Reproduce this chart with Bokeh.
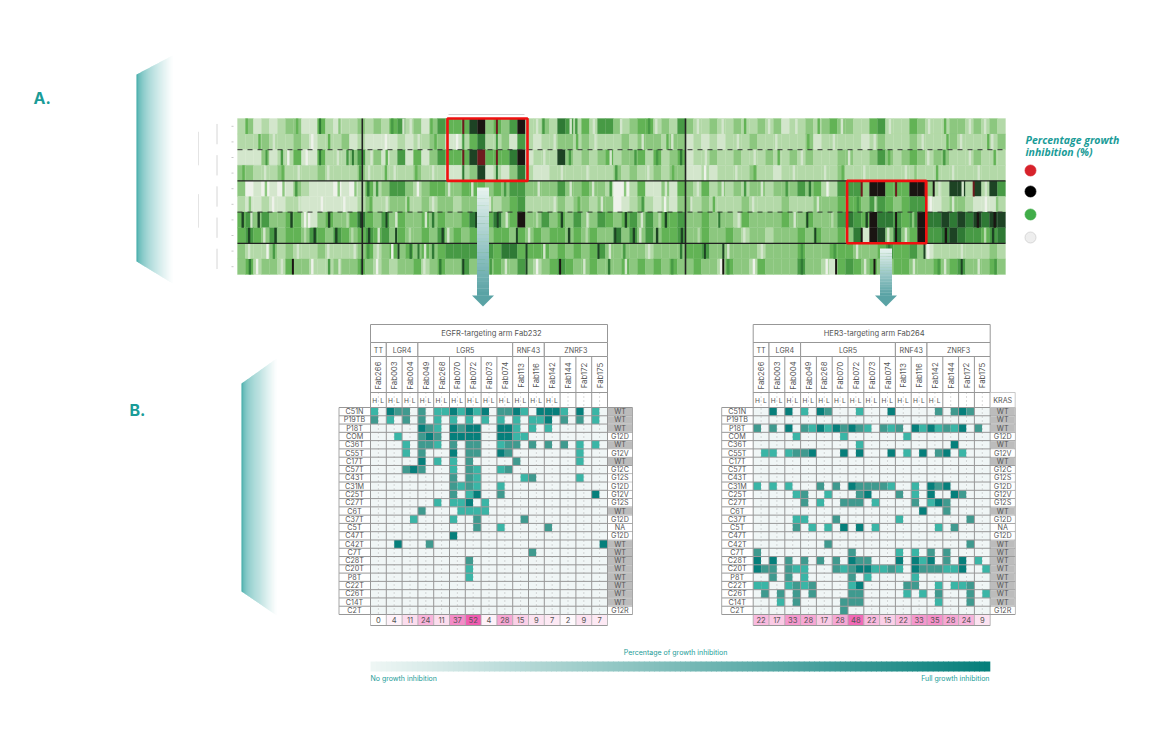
from bokeh.plotting import figure
from bokeh.models import Range1d
from bokeh.core.properties import value
from bokeh.embed import file_html
from bokeh.resources import INLINE

FONT = "Inter"
TEAL = "#1a9c98"
TXT = "#555555"

# ---------- data: panel A heat map (shade level per column block, row by row)
heat_r0 = "2312123311 4212232324 5231354447 8343582232 6524255323 4423253223 2232232312 2323433224 5222432223 323232"
heat_r1 = "2223222321 2223121111 2122331124 6223152122 3323222232 3332331212 1222322222 2312222212 3222322223 222223"
heat_r2 = "1113122411 4222352312 5141354447 9444681222 7323234233 4242341223 2232223223 2322233223 5323432332 223222"
heat_r3 = "3322232222 3222232222 2232221123 7121362112 2222222323 2232331121 2222322122 2222232222 2222222222 222222"
heat_r4 = "3010101321 1101024235 5323443344 4343553333 5334332002 4113143242 3232332333 5342255538 8444883227 727275"
heat_r5 = "2112112211 1111123223 3223233233 4323452222 3233233012 3212133232 2223222232 2233344435 5434551123 321112"
heat_r6 = "4535334421 3433464353 4334343346 6463483353 4353354345 3534453343 3324333343 3433356548 6654586676 767677"
heat_r7 = "4543534435 4354345453 4334353434 3344343434 4343433635 3534453343 3432332333 4343343618 7363485567 655456"
heat_r8 = "3222323222 3222234234 3434345555 4546644443 4343453333 3233334453 3333323333 4333444333 4544531222 222232"
heat_r9 = "3423324332 2233343232 3342343353 5343353234 5433433343 4343433433 2433243333 5332145434 3344333434 533343"
heat_rows = [heat_r0, heat_r1, heat_r2, heat_r3, heat_r4, heat_r5, heat_r6, heat_r7, heat_r8, heat_r9]
# thin stripes: (row, column block, shade level)
stripes = [(0, 28.1, 9), (0, 32.3, 9), (0, 10.2, 6), (1, 28.1, 5), (1, 32.3, 5), (2, 28.1, 9), (2, 32.3, 9),
           (2, 10.2, 6), (2, 14.3, 6), (2, 3.5, 5), (3, 28.1, 6), (3, 32.3, 6),
           (4, 77.9, 9), (4, 82.2, 9), (4, 86.9, 8), (4, 91.9, 9), (4, 85.8, 9),
           (6, 18.5, 7), (6, 29.7, 7), (6, 32.4, 7), (6, 71.1, 7), (6, 82.2, 8), (6, 60.1, 6),
           (7, 77.9, 8), (7, 82.2, 8), (7, 72.1, 7), (7, 19.7, 7), (7, 34.8, 7), (7, 47.1, 7),
           (8, 36.0, 7), (8, 20.0, 7), (8, 45.0, 7), (8, 58.3, 7), (8, 60.6, 7), (8, 85.75, 7), (8, 22.5, 6),
           (9, 6.8, 8), (9, 28.1, 7), (9, 40.2, 8), (9, 60.6, 8), (9, 74.7, 8), (9, 79.5, 8), (9, 90.4, 7), (9, 36.0, 7)]
fine_r0 = [(1.0, 4), (7.3, 4), (12.6, 3), (19.2, 5), (24.1, 4), (38.1, 5), (42.2, 5), (51.3, 5), (63.3, 4), (72.5, 4), (88.3, 4),
           (20.6, 1), (21.5, 1), (37.3, 1), (41.5, 1), (44.4, 1), (47.8, 1), (52.2, 1), (57.4, 1), (60.5, 1), (66.3, 1), (69.7, 1), (75.4, 1), (81.4, 1), (86.3, 1), (91.4, 1), (93.3, 1)]
fine_r1 = [(4.4, 1), (9.2, 0), (14.5, 1), (18.4, 0), (22.5, 1), (27.3, 0), (39.5, 1), (44.6, 1), (50.5, 1), (54.2, 1), (62.4, 1), (67.2, 1), (74.4, 1), (79.5, 1), (85.5, 1), (90.3, 1), (94.2, 1),
           (2.6, 4), (11.3, 4), (24.6, 4), (42.3, 4), (53.6, 4), (71.2, 4), (88.6, 4), (93.7, 4)]
fine_r2 = [(6.2, 0), (8.5, 0), (12.4, 1), (16.6, 1), (21.2, 1), (23.4, 1), (38.2, 1), (46.5, 1), (58.4, 1), (64.5, 1), (70.4, 1), (76.3, 1), (86.2, 1), (91.4, 1),
           (5.4, 5), (13.6, 5), (18.5, 4), (41.4, 5), (49.6, 5), (52.3, 5), (55.3, 6), (67.5, 4), (81.3, 4), (88.2, 5), (94.5, 4)]
fine_r3 = [(3.3, 1), (7.5, 1), (11.2, 1), (16.3, 1), (19.5, 1), (24.3, 1), (37.5, 1), (40.4, 1), (43.6, 1), (51.2, 1), (58.3, 0), (62.2, 1), (69.4, 1), (73.3, 1), (78.2, 1), (83.4, 1), (89.3, 1), (92.5, 1),
           (0.6, 4), (5.5, 4), (15.2, 5), (18.4, 4), (22.2, 4), (47.2, 5), (54.3, 4), (64.5, 4), (75.5, 4), (84.6, 3), (87.3, 4)]
fine_r4 = [(3.4, 3), (5.6, 3), (7.2, 5), (12.5, 3), (14.6, 3), (17.3, 5), (22.4, 0), (26.3, 1), (29.2, 1), (37.5, 1), (41.5, 1), (44.3, 1), (48.3, 3), (53.4, 1), (57.4, 1), (60.5, 1), (65.4, 1), (73.6, 0), (87.6, 1), (90.5, 1), (93.4, 1),
           (16.2, 6), (33.3, 5), (46.5, 5), (63.3, 5), (68.5, 5), (71.4, 6)]
fine_r5 = [(4.3, 0), (7.6, 1), (10.4, 0), (13.2, 0), (18.5, 1), (24.3, 1), (31.4, 1), (39.5, 1), (45.4, 1), (53.3, 0), (56.6, 1), (64.3, 1), (72.4, 1), (79.6, 2), (86.5, 0), (89.3, 1), (93.4, 0),
           (1.4, 3), (16.5, 4), (21.2, 4), (42.5, 4), (50.5, 5), (59.4, 4), (77.4, 5), (94.8, 3)]
fine_r6 = [(1.6, 1), (8.3, 0), (8.8, 0), (13.6, 2), (19.7, 1), (23.4, 1), (33.5, 1), (37.3, 2), (43.6, 1), (50.4, 1), (52.6, 2), (62.5, 1), (69.5, 1), (74.2, 2), (84.3, 3),
           (0.5, 7), (2.5, 7), (6.6, 7), (11.3, 7), (15.3, 7), (24.3, 6), (40.4, 7), (48.4, 7), (53.4, 7), (78.5, 7), (92.4, 8), (94.5, 8)]
fine_r7 = [(3.2, 1), (8.3, 2), (14.2, 2), (17.5, 1), (21.4, 2), (26.2, 1), (36.3, 1), (43.5, 2), (50.2, 1), (57.5, 2), (63.2, 1), (66.4, 2), (81.2, 1), (83.4, 1), (93.3, 2),
           (1.3, 7), (4.6, 7), (9.5, 7), (12.2, 7), (16.3, 7), (25.5, 7), (41.3, 7), (49.4, 7), (52.3, 7), (55.4, 7), (88.4, 8), (94.3, 7)]
fine_r8 = [(1.3, 1), (3.6, 0), (7.4, 1), (11.2, 1), (14.5, 1), (17.4, 1), (19.2, 0), (23.3, 1), (38.2, 1), (46.4, 1), (51.3, 1), (61.2, 1), (65.4, 1), (77.3, 1), (86.2, 0), (90.4, 1),
           (4.4, 5), (16.2, 5), (21.5, 6), (24.3, 6), (48.2, 5), (55.3, 6), (70.4, 5), (74.5, 5), (81.3, 6)]
fine_r9 = [(2.3, 0), (5.4, 1), (9.2, 0), (12.6, 1), (17.3, 0), (23.2, 1), (33.4, 1), (37.3, 0), (43.2, 1), (48.4, 1), (60.3, 0), (64.4, 0), (73.5, 0), (78.3, 1), (84.4, 1), (88.3, 1), (92.5, 1),
           (1.4, 6), (11.3, 5), (15.4, 6), (25.2, 6), (31.5, 5), (46.3, 6), (54.2, 5), (61.2, 5), (70.4, 6), (87.5, 5), (94.6, 5)]
fine_rows = [fine_r0, fine_r1, fine_r2, fine_r3, fine_r4, fine_r5, fine_r6, fine_r7, fine_r8, fine_r9]
heat_palette = ["#eef2ea", "#d3e6cc", "#b3d9a8", "#8cc77f", "#62b355", "#479a45", "#2f7a35", "#1d4324", "#1a1512", "#6e1a1e"]

# ---------- data: panel B
samples = ["C51N", "P19TB", "P18T", "COM", "C36T", "C55T", "C17T", "C57T", "C43T", "C31M", "C25T", "C27T", "C6T",
           "C37T", "C5T", "C47T", "C42T", "C7T", "C28T", "C20T", "P8T", "C22T", "C26T", "C14T", "C2T"]
kras = ["WT", "WT", "WT", "G12D", "WT", "G12V", "WT", "G12C", "G12S", "G12D", "G12V", "G12S", "WT",
        "G12D", "NA", "G12D", "WT", "WT", "WT", "WT", "WT", "WT", "WT", "WT", "G12R"]
fabs = ["Fab266", "Fab003", "Fab004", "Fab049", "Fab268", "Fab070", "Fab072", "Fab073", "Fab074", "Fab113",
        "Fab116", "Fab142", "Fab144", "Fab172", "Fab175"]
groups = [("TT", 1), ("LGR4", 2), ("LGR5", 6), ("RNF43", 2), ("ZNRF3", 4)]
egfr_cells = [
    "10 32 20 20 11 31 31 30 22 31 03 33 10 30 10",
    "20 10 20 20 10 10 10 10 10 10 11 30 20 20 10",
    "00 00 00 32 10 32 33 00 33 10 10 10 00 00 00",
    "00 01 00 23 20 33 33 00 33 11 00 00 00 00 00",
    "00 00 10 22 10 20 22 00 12 20 20 20 20 10 10",
    "00 00 10 20 00 30 22 00 32 00 00 00 00 10 00",
    "00 00 00 30 10 10 20 00 00 20 00 00 00 10 00",
    "00 00 23 20 00 10 21 00 12 00 00 00 00 00 00",
    "00 00 00 00 00 20 21 00 00 01 20 00 00 10 00",
    "00 00 00 00 00 21 21 00 10 00 00 00 00 00 00",
    "00 00 00 00 00 20 13 00 20 00 00 00 00 00 30",
    "00 00 00 00 10 11 30 10 00 00 00 00 00 00 00",
    "00 00 00 20 00 01 11 10 00 00 00 00 00 00 00",
    "00 00 01 00 00 10 02 00 00 02 00 00 00 00 00",
    "00 00 00 00 00 00 02 00 10 00 00 20 00 00 00",
    "00 00 00 00 00 30 00 00 00 00 00 00 00 00 00",
    "00 03 00 02 00 00 00 00 00 00 00 00 00 00 03",
    "00 00 00 00 00 00 00 00 00 00 20 00 00 00 00",
    "00 00 00 00 00 00 20 00 00 00 00 00 00 00 00",
    "00 00 00 00 00 00 10 00 00 00 00 00 00 00 00",
    "00 00 00 00 00 00 10 00 00 00 00 00 00 00 00",
    "00 00 00 00 00 00 00 00 00 00 00 00 00 00 00",
    "00 00 00 00 00 00 00 00 00 00 00 00 00 00 00",
    "00 00 00 00 00 00 00 00 00 00 00 00 00 00 00",
    "00 00 00 00 00 00 00 00 00 00 00 00 00 00 00",
]
her3_cells = [
    "00 30 30 10 32 00 01 00 03 00 00 02 02 32 00",
    "00 00 00 00 00 00 00 00 00 00 00 00 00 00 00",
    "20 20 30 21 31 32 32 10 21 20 31 31 21 30 20",
    "00 00 01 00 00 01 00 00 00 01 00 00 00 00 00",
    "00 00 00 00 00 00 01 00 00 00 00 00 03 00 00",
    "01 10 12 23 00 03 03 00 03 01 03 02 30 10 00",
    "00 00 00 00 00 00 00 00 00 00 00 00 00 00 00",
    "00 00 00 00 00 00 00 00 00 00 00 00 00 00 00",
    "00 00 00 00 00 00 00 00 00 00 00 00 00 00 00",
    "10 10 10 00 20 20 32 22 21 00 10 32 30 00 00",
    "00 00 01 20 01 00 02 30 00 20 10 30 03 20 00",
    "00 00 00 20 10 02 22 01 00 00 20 13 20 00 00",
    "00 00 00 00 00 00 00 00 00 00 03 00 20 00 00",
    "00 00 01 10 00 20 00 00 00 10 00 00 00 02 00",
    "00 00 02 01 01 03 03 01 00 00 00 01 02 00 00",
    "00 00 00 00 00 00 00 00 00 00 00 00 00 00 00",
    "00 00 00 00 02 00 00 00 00 00 00 00 00 02 00",
    "20 00 00 00 00 00 20 00 00 10 10 20 20 00 00",
    "30 30 20 20 20 20 32 20 00 30 31 30 20 30 10",
    "32 20 21 10 00 21 23 31 12 10 32 22 11 30 01",
    "00 20 20 10 00 00 20 10 00 00 10 00 00 00 00",
    "11 00 12 12 00 00 13 00 00 02 20 01 01 12 00",
    "02 02 02 02 00 00 22 00 00 01 01 02 00 02 01",
    "00 01 02 00 00 02 22 00 00 00 00 01 00 02 00",
    "00 00 00 00 00 02 00 00 00 00 00 00 00 00 00",
]
egfr_counts = [0, 4, 11, 24, 11, 37, 52, 4, 28, 15, 9, 7, 2, 9, 7]
her3_counts = [22, 17, 33, 28, 17, 28, 48, 22, 15, 22, 33, 35, 28, 24, 9]
cell_palette = ["#f0f6f6", "#3ab5a6", "#3f9a8f", "#067f7b"]
legend_colors = ["#d7222b", "#000000", "#41ad49", "#eeeeee"]


def mix(a, b, t):
    pa = [int(a[i:i + 2], 16) for i in (1, 3, 5)]
    pb = [int(b[i:i + 2], 16) for i in (1, 3, 5)]
    return "#%02x%02x%02x" % tuple(round(x + (y - x) * t) for x, y in zip(pa, pb))


p = figure(width=1154, height=732, x_range=Range1d(0, 1154), y_range=Range1d(732, 0),
           x_axis_type=None, y_axis_type=None, output_backend="svg", toolbar_location=None,
           min_border=0, outline_line_color=None, background_fill_color="white")


def label(x, y, s, size=7.5, color=TXT, align="center", style="normal", angle=0.0, font=FONT):
    p.text([x], [y], text=[s], text_font=value(font), text_font_size=f"{size}px", text_color=color,
           text_align=align, text_baseline="middle", text_font_style=style, angle=angle)


def gradient_wing(x0, x1, top0, top1, bot0, bot1, color, n=36):
    xs, ys, cs = [], [], []
    for i in range(n):
        a, b = i / n, (i + 1) / n
        xa, xb = x0 + (x1 - x0) * a, x0 + (x1 - x0) * b + 0.3
        xs.append([xa, xb, xb, xa])
        ys.append([top0 + (top1 - top0) * a, top0 + (top1 - top0) * b,
                   bot0 + (bot1 - bot0) * b, bot0 + (bot1 - bot0) * a])
        cs.append(mix(color, "#ffffff", min(1, (a ** 0.55))))
    p.patches(xs, ys, fill_color=cs, line_color=None)


gradient_wing(136, 172, 74, 55, 261, 283, "#2fa3a0")
gradient_wing(241, 276, 383, 358, 591, 615, "#2fa3a0")
label(33, 97, "A.", size=16, color=TEAL, align="left", style="bold")
label(129, 409, "B.", size=16, color=TEAL, align="left", style="bold")

# ---------- heat map
HX0, HY0, BW, RH = 237.0, 118.0, 8.0, 15.6
L, R, T, B, C = [], [], [], [], []
for r, row in enumerate(heat_rows):
    for c, ch in enumerate(row.replace(" ", "")):
        L.append(HX0 + c * BW); R.append(HX0 + (c + 1) * BW)
        T.append(HY0 + r * RH); B.append(HY0 + (r + 1) * RH)
        C.append(heat_palette[int(ch)])
p.quad(left=L, right=R, top=T, bottom=B, fill_color=C, line_color=C, line_width=0.3)
fr = [(r, c, l) for r, row in enumerate(fine_rows) for c, l in row]
p.quad(left=[HX0 + c * BW for _, c, _l in fr], right=[HX0 + c * BW + 2.4 for _, c, _l in fr],
       top=[HY0 + r * RH for r, _, _l in fr], bottom=[HY0 + (r + 1) * RH for r, _, _l in fr],
       fill_color=[heat_palette[l] for _, _, l in fr], line_color=None)
p.quad(left=[HX0 + c * BW for _, c, _l in stripes], right=[HX0 + c * BW + 2 for _, c, _l in stripes],
       top=[HY0 + r * RH for r, _, _l in stripes], bottom=[HY0 + (r + 1) * RH for r, _, _l in stripes],
       fill_color=[heat_palette[l] for _, _, l in stripes], line_color=None)

xe = HX0 + 96 * BW
p.segment([HX0, HX0], [HY0 + 2 * RH, HY0 + 6 * RH], [xe, xe], [HY0 + 2 * RH, HY0 + 6 * RH],
          line_color="#333333", line_width=1.0, line_dash="5 5")
p.segment([HX0, HX0], [HY0 + 4 * RH, HY0 + 8 * RH], [xe, xe], [HY0 + 4 * RH, HY0 + 8 * RH],
          line_color="#222222", line_width=1.3)
p.segment([HX0 + 15.6 * BW, HX0 + 56 * BW], [HY0] * 2, [HX0 + 15.6 * BW, HX0 + 56 * BW], [HY0 + 10 * RH] * 2,
          line_color="#222222", line_width=1.6)
# red selection boxes
p.quad(left=[HX0 + 26.25 * BW, HX0 + 76.2 * BW], right=[HX0 + 36.25 * BW, HX0 + 86.1 * BW],
       top=[HY0 + 0.0 * RH, HY0 + 4 * RH], bottom=[HY0 + 4 * RH, HY0 + 8 * RH],
       fill_color=None, line_color="#f01010", line_width=2.6)

# dendrogram ticks (faint)
tx = [216.5] * 5
ty0 = [HY0 + (2 * i + 0.35) * RH for i in range(5)]
ty1 = [HY0 + (2 * i + 1.65) * RH for i in range(5)]
p.segment(tx, ty0, tx, ty1, line_color="#cccccc", line_width=0.8)
p.segment([198] * 2, [HY0 + 0.85 * RH, HY0 + 4.85 * RH], [198] * 2, [HY0 + 3.0 * RH, HY0 + 7.0 * RH],
          line_color="#dddddd", line_width=0.8)
p.segment([231] * 10, [HY0 + (i + 0.5) * RH for i in range(10)], [233] * 10, [HY0 + (i + 0.5) * RH for i in range(10)],
          line_color="#bbbbbb", line_width=0.8)
p.segment([448], [114], [524], [114], line_color="#bbbbbb", line_width=0.7)

# ---------- arrows
for xc, y_top in ((482.5, 187.0), (885.5, 248.0)):
    n = 30
    y_end = 295.0
    step = (y_end - y_top) / n
    p.quad(left=[xc - 6] * n, right=[xc + 6] * n,
           top=[y_top + i * step for i in range(n)], bottom=[y_top + (i + 1) * step + 0.3 for i in range(n)],
           fill_color=[mix("#e6f2ee", "#5aa3a5", i / (n - 1)) for i in range(n)], line_color=None)
    p.patch([xc - 11, xc + 11, xc], [y_end, y_end, y_end + 11], fill_color="#5aa3a5", line_color=None)

# ---------- legend of panel A
label(1025, 139, "Percentage growth", size=10.5, color=TEAL, align="left", style="bold italic", font="Open Sans")
label(1025, 151, "inhibition (%)", size=10.5, color=TEAL, align="left", style="bold italic", font="Open Sans")
p.scatter([1030] * 4, [170, 191, 214, 237], size=11, fill_color=legend_colors,
          line_color=["#d7222b", "#000000", "#41ad49", "#cccccc"], line_width=0.7)

# ---------- panel B tables
CW, RH2, Y0 = 15.8, 8.28, 407.0
GRID = "#979797"


def panel(x0, title, cells, counts, show_kras_head):
    xr = x0 + 15 * CW
    L, R, T, B, C = [], [], [], [], []
    for r, row in enumerate(cells):
        for c, ch in enumerate(row.replace(" ", "")):
            L.append(x0 + c * CW / 2); R.append(x0 + (c + 1) * CW / 2)
            T.append(Y0 + r * RH2); B.append(Y0 + (r + 1) * RH2)
            C.append(cell_palette[int(ch)])
    p.quad(left=L, right=R, top=T, bottom=B, fill_color=C, line_color=None)
    yb = Y0 + 25 * RH2
    centres = [x0 + (j + 0.5) * CW for j in range(15)]
    p.segment(centres, [Y0 - 15] * 15, centres, [yb] * 15, line_color="#888888", line_width=0.6, line_dash="1 3")
    p.quad(left=[x0], right=[xr], top=[324], bottom=[342], fill_color="white", line_color=GRID, line_width=1)
    label((x0 + xr) / 2 + 2.5, 333, title, size=7.6)
    j = 0
    for name, span in groups:
        a, b = x0 + j * CW, x0 + (j + span) * CW
        p.quad(left=[a], right=[b], top=[342], bottom=[356], fill_color="white", line_color=GRID, line_width=1)
        label((a + b) / 2, 349.5, name, size=7.2)
        j += span
    edges = [x0 + j * CW for j in range(16)]
    p.segment(edges, [356] * 16, edges, [yb] * 16, line_color=GRID, line_width=1)
    p.segment([x0], [392], [xr], [392], line_color=GRID, line_width=1)
    for j, f in enumerate(fabs):
        label(x0 + (j + 0.5) * CW, 375, f, size=7.8, angle=1.5708)
        if j < 12:
            label(x0 + (j + 0.25) * CW + 0.3, 400, "H", size=6.6)
            label(x0 + (j + 0.75) * CW - 0.3, 400, "L", size=6.6)
    ys = [Y0 + r * RH2 for r in range(26)]
    p.segment([x0 - 31.5] * 26, ys, [xr + 25] * 26, ys, line_color=GRID, line_width=1)
    p.segment([x0 - 31.5, xr + 25], [Y0] * 2, [x0 - 31.5, xr + 25], [yb] * 2, line_color="#a5a5a5", line_width=1)
    kfill = ["#bcbcbc" if k == "WT" else "#ffffff" for k in kras]
    p.quad(left=[xr + 0.5] * 25, right=[xr + 24.6] * 25, top=[y + 0.5 for y in ys[:-1]], bottom=[y - 0.5 for y in ys[1:]],
           fill_color=kfill, line_color=None)
    for r in range(25):
        yc = Y0 + (r + 0.5) * RH2
        label(x0 - 16, yc, samples[r], size=7.2)
        label(xr + 12.5, yc, kras[r], size=7.2)
    if show_kras_head:
        p.quad(left=[xr], right=[xr + 25], top=[392], bottom=[Y0], fill_color="white", line_color="#bbbbbb", line_width=0.8)
        label(xr + 12.5, 400, "KRAS", size=7.2)
    p.quad(left=edges[:-1], right=edges[1:], top=[yb + 0.5] * 15, bottom=[yb + 10.5] * 15,
           fill_color=[mix("#ffffff", "#f05cb0", v / 52) for v in counts], line_color=None)
    p.segment(edges, [yb] * 16, edges, [yb + 11] * 16, line_color="#aaaaaa", line_width=0.8)
    p.segment([x0], [yb + 11], [xr], [yb + 11], line_color=GRID, line_width=1)
    for j, v in enumerate(counts):
        label(x0 + (j + 0.5) * CW, yb + 5.6, str(v), size=7.6)


panel(370.0, "EGFR-targeting arm Fab232", egfr_cells, egfr_counts, False)
panel(752.7, "HER3-targeting arm Fab264", her3_cells, her3_counts, True)

# ---------- colour bar
n = 120
bw = (989.0 - 370.0) / n
p.quad(left=[370 + i * bw for i in range(n)], right=[370 + (i + 1) * bw + 0.8 for i in range(n)],
       top=[661] * n, bottom=[671] * n,
       fill_color=[mix("#eef6f4", "#067f7b", i / (n - 1)) for i in range(n)], line_color=None)
label(675, 652, "Percentage of growth inhibition", size=7, color=TEAL)
label(370, 678, "No growth inhibition", size=7, color=TEAL, align="left")
label(989, 678, "Full growth inhibition", size=7, color=TEAL, align="right")

open("out.html", "w").write(file_html(p, INLINE))
